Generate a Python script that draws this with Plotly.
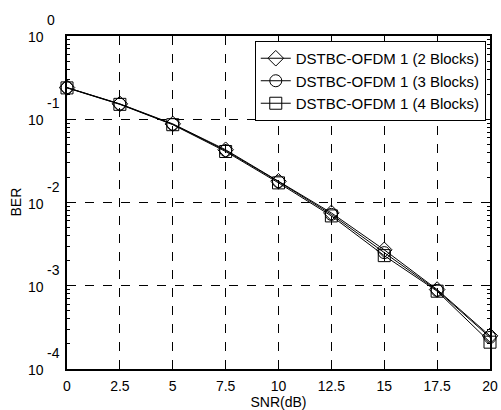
import plotly.graph_objects as go

snr_db = [0, 2.5, 5, 7.5, 10, 12.5, 15, 17.5, 20]
ber_2_blocks = [0.240, 0.153, 0.088, 0.043, 0.0180, 0.0075, 0.0027, 0.00090, 0.00025]
ber_3_blocks = [0.240, 0.152, 0.087, 0.042, 0.0178, 0.0072, 0.0025, 0.00088, 0.00024]
ber_4_blocks = [0.238, 0.151, 0.086, 0.041, 0.0172, 0.0069, 0.0023, 0.00086, 0.00021]

series_names = ["DSTBC-OFDM 1 (2 Blocks)", "DSTBC-OFDM 1 (3 Blocks)", "DSTBC-OFDM 1 (4 Blocks)"]
x_ticks = [0, 2.5, 5, 7.5, 10, 12.5, 15, 17.5, 20]
x_tick_text = ["0", "2.5", "5", "7.5", "10", "12.5", "15", "17.5", "20"]
y_decades = [0, -1, -2, -3, -4]
y_exponent_text = ["0", "-1", "-2", "-3", "-4"]

FONT = "Liberation Sans, Arial, sans-serif"
symbols = ["diamond-open", "circle-open", "square-open"]

# minor log ticks (2..9 within each decade)
minor_ticks = [m * 10.0 ** d for d in range(-4, 0) for m in range(2, 10)]

fig = go.Figure()
for name, ys, sym in zip(series_names, [ber_2_blocks, ber_3_blocks, ber_4_blocks], symbols):
    fig.add_trace(go.Scatter(
        x=snr_db, y=ys, name=name, mode="lines+markers", cliponaxis=False,
        line=dict(color="black", width=1),
        marker=dict(symbol=sym, size=12, color="black", line=dict(width=1, color="black")),
    ))

# invisible carrier so the minor-tick axis is drawn
fig.add_trace(go.Scatter(x=snr_db[:1], y=ber_2_blocks[:1], yaxis="y2", mode="markers",
                         marker=dict(opacity=0), showlegend=False, hoverinfo="skip"))

axis_common = dict(
    showline=True, linecolor="black", linewidth=1.5, mirror="ticks",
    ticks="inside", ticklen=5, tickcolor="black",
    showgrid=True, gridcolor="black", gridwidth=1, griddash="dash",
    zeroline=False, automargin=False,
    tickfont=dict(family=FONT, size=14, color="black"),
)

fig.update_xaxes(
    range=[0, 20], tickvals=x_ticks, ticktext=x_tick_text, ticklabelstandoff=3,
    title=dict(text="SNR(dB)", standoff=0, font=dict(family=FONT, size=14, color="black")),
    **axis_common,
)
fig.update_layout(
    yaxis=dict(type="log", range=[-4, 0], tickvals=[10.0 ** d for d in y_decades],
               showticklabels=False, **axis_common),
    yaxis2=dict(type="log", range=[-4, 0], overlaying="y", side="left",
                tickvals=minor_ticks, showticklabels=False,
                ticks="inside", ticklen=3, tickcolor="black", tickwidth=1,
                mirror="ticks", showline=False, showgrid=False, zeroline=False,
                automargin=False),
)

# decade labels drawn as base "10" plus a raised exponent
for d, e in zip(y_decades, y_exponent_text):
    fig.add_annotation(x=0, xref="paper", y=d, yref="y", text="10", showarrow=False,
                       xanchor="right", yanchor="middle", xshift=-21, yshift=-1,
                       font=dict(family=FONT, size=14, color="black"))
    fig.add_annotation(x=0, xref="paper", y=d, yref="y", text=e, showarrow=False,
                       xanchor="left", yanchor="middle", xshift=-22, yshift=16,
                       font=dict(family=FONT, size=14, color="black"))

fig.add_annotation(x=0, xref="paper", y=0.5, yref="paper", text="BER", showarrow=False,
                   textangle=-90, xanchor="center", yanchor="middle", xshift=-52,
                   font=dict(family=FONT, size=14, color="black"))

fig.update_layout(
    width=501, height=410,
    margin=dict(l=67, r=11, t=36, b=41),
    plot_bgcolor="white", paper_bgcolor="white",
    showlegend=True,
    legend=dict(
        x=0.99, y=0.985, xanchor="right", yanchor="top",
        bgcolor="white", bordercolor="black", borderwidth=1,
        font=dict(family=FONT, size=15, color="black"),
        tracegroupgap=0,
    ),
)

fig.write_html("out.html")
